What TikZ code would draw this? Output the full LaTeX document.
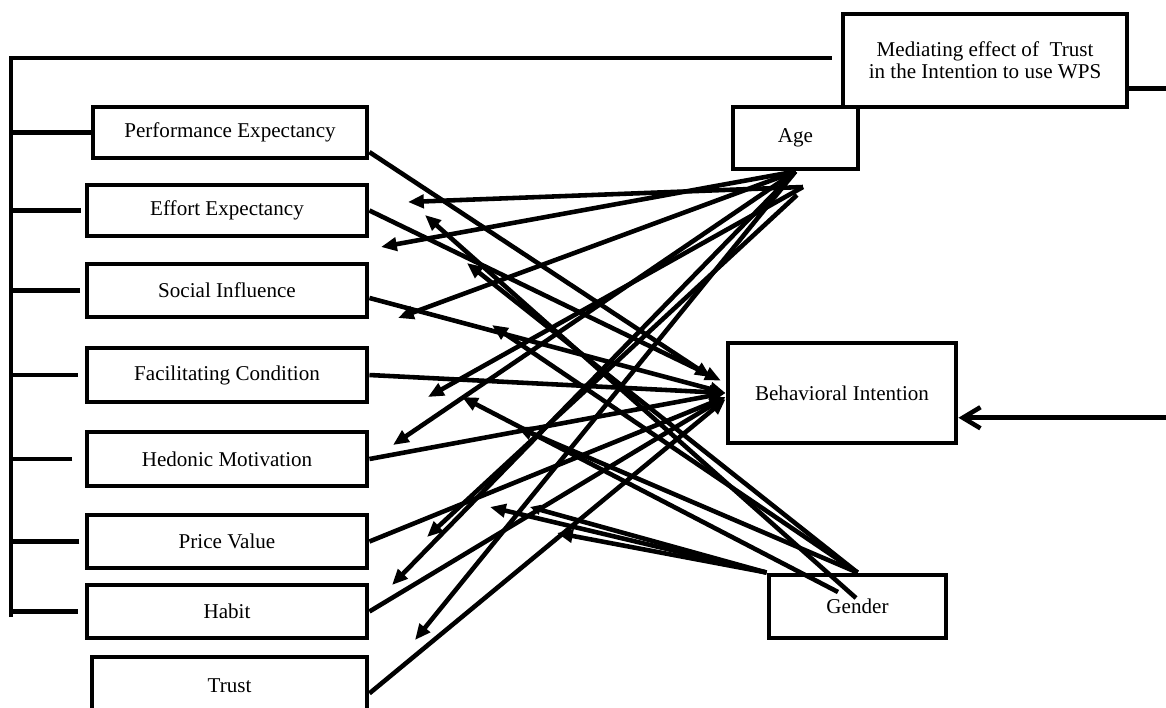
\documentclass[tikz,border=0pt]{standalone}
\usepackage{fontspec}
\setmainfont{Liberation Serif}
\usetikzlibrary{arrows.meta}

\begin{document}
\begin{tikzpicture}[x=0.02cm,y=-0.02cm,line width=2.6pt,
  construct/.style={draw,line width=2.8pt,inner sep=0pt,align=center,
    font=\fontsize{12}{12.5}\selectfont},
  toBI/.style={-{Triangle[length=9pt,width=7.5pt]}},
  modtip/.style={-{Triangle[length=9pt,width=7.5pt]}},
  smalltip/.style={-{Triangle[length=6pt,width=5.5pt]}}]
\useasboundingbox (0,0) rectangle (1166,707);

% Independent constructs
\node[construct,minimum width=5.48cm,minimum height=1.02cm] (pe) at (230,132.5) {Performance Expectancy};
\node[construct,minimum width=5.6cm,minimum height=1.02cm] (ee) at (227,210.5) {Effort Expectancy};
\node[construct,minimum width=5.6cm,minimum height=1.06cm] (si) at (227,290.5) {Social Influence};
\node[construct,minimum width=5.6cm,minimum height=1.08cm] (fc) at (227,375) {Facilitating Condition};
\node[construct,minimum width=5.6cm,minimum height=1.08cm] (hm) at (227,459) {Hedonic Motivation};
\node[construct,minimum width=5.6cm,minimum height=1.06cm] (pv) at (227,541.5) {Price Value};
\node[construct,minimum width=5.6cm,minimum height=1.06cm] (hab) at (227,611.5) {Habit};
\node[construct,minimum width=5.5cm,minimum height=1.16cm] (trust) at (229.5,686) {Trust};

% Moderators, outcome and mediation
\node[construct,minimum width=2.5cm,minimum height=1.24cm] (age) at (795.5,138) {Age};
\node[construct,minimum width=3.54cm,minimum height=1.26cm] (gender) at (857.5,606.5) {Gender};
\node[construct,minimum width=4.56cm,minimum height=2cm] (bi) at (842,393) {Behavioral Intention};
\node[construct,minimum width=5.68cm,minimum height=1.86cm] (med) at (985,60.5) {Mediating effect of~~Trust\\in the Intention to use WPS};

% Bracket on the left
\coordinate (trunk) at (11,58);
\coordinate (trunkend) at (11,617);
\draw[shorten >=5pt] (trunkend) -- (trunk) -- (trunk -| med.west);
\foreach \n/\g in {pe/0pt,ee/2pt,si/2.5pt,fc/4pt,hm/7pt,pv/3pt,hab/4pt}
  \draw[shorten <=\g] (\n.west) -- (\n.west -| trunk);

% Paths to behavioral intention
\draw[toBI,shorten >=10pt] (pe.-8) -- (bi.177);
\draw[toBI,shorten >=3pt] (ee.east) -- (bi.175);
\draw[toBI] (si.-3) -- (bi.west);
\draw[toBI] (fc.east) -- (bi.west);
\draw[toBI] (hm.east) -- (bi.west);
\draw[toBI] (pv.east) -- (bi.182);
\draw[toBI] (hab.east) -- (bi.182);
\draw[toBI] (trust.-3) -- (bi.183);

% Age
\coordinate (ageA) at (803,187);
\coordinate (ageB) at (797,195);
\foreach \n/\x/\y in {a1/408/202,a2/381/247,a3/398/318,a4/428/397,
                      a5/393/445,a6/427/537,a7/392/585,a8/415/640}
  \coordinate (\n) at (\x,\y);
\draw[modtip] (ageA) -- (a1);
\draw[modtip] (age.south) -- (a2);
\draw[modtip] (age.south) -- (a3);
\draw[modtip] (ageA) -- (a4);
\draw[modtip] (age.south) -- (a5);
\draw[modtip] (ageB) -- (a6);
\draw[modtip] (age.south) -- (a7);
\draw[modtip] (age.south) -- (a8);

% Gender
\coordinate (genA) at (856,598);
\coordinate (genC) at (838,592);
\foreach \n/\x/\y in {g1/425/215,g2/467/263,g3/492/325,g4/462/397,
                      g5/517/427,g6/490/507,g7/530/507,g8/557/533}
  \coordinate (\n) at (\x,\y);
\draw[modtip] (genA) -- (g1);
\draw[modtip] (gender.north) -- (g2);
\draw[modtip] (gender.north) -- (g3);
\draw[modtip] (genC) -- (g4);
\draw[modtip] (gender.north) -- (g5);
\draw[modtip] (gender.north west) -- (g6);
\draw[smalltip] (gender.north west) -- (g7);
\draw[modtip] (gender.north west) -- (g8);

% Trust mediation back into intention
\draw[-{Straight Barb[length=10pt,width=12pt]}] (med.-11) -- ++(53,0) |- (bi.-12);

\end{tikzpicture}
\end{document}
